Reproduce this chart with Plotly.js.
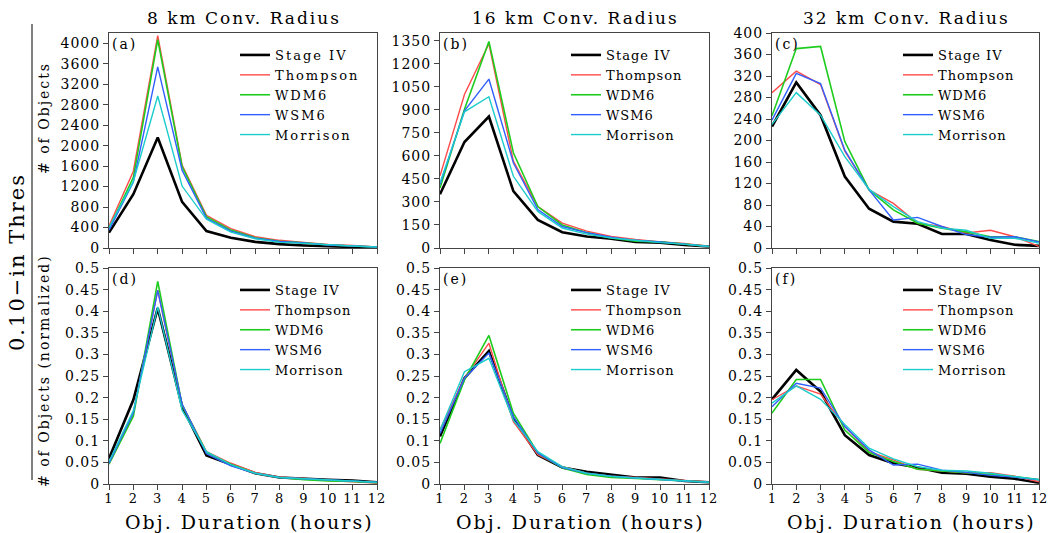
<!DOCTYPE html>
<html>
<head>
<meta charset="utf-8">
<script src="https://cdn.plot.ly/plotly-3.0.1.min.js"></script>
<style>
  html, body { margin: 0; padding: 0; background: #fff; }
  #chart { width: 1048px; height: 533px; }
  svg text { letter-spacing: 1px; }
  svg text.legendtext { letter-spacing: 2px; }
  svg .annotation-text { letter-spacing: 2px; }
  svg .x6tick text, svg text.x6tick { letter-spacing: 0px; }
</style>
</head>
<body>
<div id="chart"></div>
<script>
// ---------- data ----------
const hours = [1, 2, 3, 4, 5, 6, 7, 8, 9, 10, 11, 12];
const seriesNames = ['Stage IV', 'Thompson', 'WDM6', 'WSM6', 'Morrison'];
const columnTitles = ['8 km Conv. Radius', '16 km Conv. Radius', '32 km Conv. Radius'];
const panelLabels = ['(a)', '(b)', '(c)', '(d)', '(e)', '(f)'];
const xTitle = 'Obj. Duration (hours)';

// (a) 8 km, number of objects
const a_StageIV  = [300, 1050, 2160, 900, 330, 200, 120, 75, 50, 30, 20, 10];
const a_Thompson = [430, 1500, 4150, 1620, 640, 380, 220, 150, 110, 70, 50, 20];
const a_WDM6     = [380, 1380, 4070, 1590, 610, 350, 200, 130, 100, 60, 40, 20];
const a_WSM6     = [350, 1290, 3540, 1520, 580, 330, 190, 130, 100, 60, 40, 20];
const a_Morrison = [400, 1300, 2970, 1210, 560, 310, 180, 110, 90, 60, 40, 20];

// (b) 16 km, number of objects
const b_StageIV  = [350, 690, 856, 370, 183, 103, 75, 60, 40, 35, 20, 10];
const b_Thompson = [470, 1000, 1330, 566, 270, 162, 110, 75, 55, 40, 30, 10];
const b_WDM6     = [390, 904, 1345, 620, 270, 150, 100, 65, 45, 40, 25, 10];
const b_WSM6     = [413, 893, 1100, 555, 250, 140, 100, 70, 50, 40, 25, 10];
const b_Morrison = [424, 887, 985, 467, 238, 130, 90, 65, 50, 35, 25, 10];

// (c) 32 km, number of objects
const c_StageIV  = [226, 308, 247, 133, 73, 49, 45, 26, 26, 15, 6, 4];
const c_Thompson = [289, 329, 304, 180, 108, 83, 46, 40, 28, 33, 21, 3];
const c_WDM6     = [246, 371, 375, 198, 108, 71, 46, 37, 30, 21, 21, 12];
const c_WSM6     = [238, 325, 306, 182, 108, 52, 57, 40, 25, 20, 21, 11];
const c_Morrison = [230, 289, 247, 170, 109, 77, 49, 37, 33, 18, 18, 9];

// (d) 8 km, normalized
const d_StageIV  = [0.059, 0.195, 0.407, 0.179, 0.066, 0.045, 0.025, 0.015, 0.012, 0.010, 0.008, 0.004];
const d_Thompson = [0.050, 0.164, 0.449, 0.183, 0.075, 0.048, 0.027, 0.016, 0.013, 0.008, 0.005, 0.002];
const d_WDM6     = [0.046, 0.157, 0.469, 0.183, 0.073, 0.046, 0.025, 0.015, 0.010, 0.007, 0.006, 0.003];
const d_WSM6     = [0.048, 0.165, 0.448, 0.185, 0.070, 0.042, 0.025, 0.015, 0.012, 0.009, 0.007, 0.004];
const d_Morrison = [0.052, 0.170, 0.410, 0.171, 0.075, 0.045, 0.025, 0.015, 0.012, 0.009, 0.007, 0.004];

// (e) 16 km, normalized
const e_StageIV  = [0.110, 0.245, 0.308, 0.152, 0.067, 0.038, 0.028, 0.022, 0.015, 0.015, 0.007, 0.004];
const e_Thompson = [0.125, 0.245, 0.326, 0.144, 0.068, 0.040, 0.025, 0.018, 0.015, 0.012, 0.008, 0.005];
const e_WDM6     = [0.094, 0.241, 0.344, 0.164, 0.072, 0.037, 0.022, 0.015, 0.013, 0.010, 0.008, 0.004];
const e_WSM6     = [0.117, 0.245, 0.303, 0.156, 0.072, 0.038, 0.025, 0.018, 0.014, 0.010, 0.007, 0.004];
const e_Morrison = [0.125, 0.260, 0.291, 0.148, 0.075, 0.040, 0.025, 0.018, 0.014, 0.011, 0.008, 0.004];

// (f) 32 km, normalized
const f_StageIV  = [0.196, 0.264, 0.214, 0.113, 0.067, 0.048, 0.038, 0.026, 0.024, 0.017, 0.012, 0.003];
const f_Thompson = [0.195, 0.227, 0.208, 0.133, 0.075, 0.056, 0.034, 0.030, 0.026, 0.026, 0.018, 0.005];
const f_WDM6     = [0.164, 0.242, 0.242, 0.125, 0.073, 0.052, 0.034, 0.030, 0.027, 0.022, 0.017, 0.010];
const f_WSM6     = [0.179, 0.233, 0.222, 0.133, 0.079, 0.044, 0.046, 0.032, 0.027, 0.020, 0.016, 0.010];
const f_Morrison = [0.187, 0.227, 0.196, 0.138, 0.083, 0.058, 0.040, 0.032, 0.030, 0.025, 0.017, 0.010];

const yMax  = [4200, 1400, 400, 0.5, 0.5, 0.5];
const yStep = [400, 150, 40, 0.05, 0.05, 0.05];

// ---------- style ----------
const FONT = 'DejaVu Serif';
const colors = ['#000000', '#ff4a4a', '#1ecc1e', '#3060ff', '#1ccccc'];
const widths = [2.6, 1.4, 1.6, 1.4, 1.4];
const W = 1048, H = 533;

// pixel frame of panels
const colPx = [[109, 377], [440, 709], [772, 1039]];
const rowPx = [[33, 248], [268, 484]];

const panels = [
  [a_StageIV, a_Thompson, a_WDM6, a_WSM6, a_Morrison],
  [b_StageIV, b_Thompson, b_WDM6, b_WSM6, b_Morrison],
  [c_StageIV, c_Thompson, c_WDM6, c_WSM6, c_Morrison],
  [d_StageIV, d_Thompson, d_WDM6, d_WSM6, d_Morrison],
  [e_StageIV, e_Thompson, e_WDM6, e_WSM6, e_Morrison],
  [f_StageIV, f_Thompson, f_WDM6, f_WSM6, f_Morrison]
];

const traces = [];
const layout = {
  width: W, height: H,
  margin: {l: 0, r: 0, t: 0, b: 0},
  paper_bgcolor: '#fff', plot_bgcolor: '#fff',
  font: {family: FONT, color: '#000'},
  showlegend: true,
  annotations: [], shapes: []
};

panels.forEach((p, i) => {
  const r = Math.floor(i / 3), c = i % 3;
  const sfx = i === 0 ? '' : String(i + 1);
  const legName = 'legend' + sfx;
  p.forEach((ys, k) => {
    traces.push({
      x: hours, y: ys, type: 'scatter', mode: 'lines',
      name: seriesNames[k],
      line: {color: colors[k], width: widths[k]},
      xaxis: 'x' + sfx, yaxis: 'y' + sfx,
      legend: legName
    });
  });
  const [x0, x1] = colPx[c], [y0, y1] = rowPx[r];
  layout['xaxis' + sfx] = {
    domain: [x0 / W, x1 / W], anchor: 'y' + sfx,
    range: [1, 12], tickvals: hours,
    ticks: 'outside', ticklen: 5, tickcolor: '#444', tickwidth: 1,
    showline: true, mirror: true, linecolor: '#444', linewidth: 1,
    showgrid: false, zeroline: false,
    showticklabels: r === 1, ticklabeloverflow: 'allow',
    ticklabelstandoff: -3,
    tickfont: {family: FONT, size: 13, color: '#000'}
  };
  layout['yaxis' + sfx] = {
    domain: [1 - y1 / H, 1 - y0 / H], anchor: 'x' + sfx,
    range: [0, yMax[i]], dtick: yStep[i], tick0: 0,
    ticks: 'outside', ticklen: 5, tickcolor: '#444', tickwidth: 1,
    showline: true, mirror: true, linecolor: '#444', linewidth: 1,
    showgrid: false, zeroline: false,
    tickfont: {family: FONT, size: 14, color: '#000'}
  };
  layout[legName] = {
    x: (x0 + 126) / W, y: 1 - (y0 + 7) / H,
    xanchor: 'left', yanchor: 'top',
    xref: 'paper', yref: 'paper',
    bgcolor: 'rgba(0,0,0,0)', borderwidth: 0,
    font: {family: FONT, size: 13, color: '#000'},
    tracegroupgap: 0, itemwidth: 30
  };
  layout.annotations.push({
    text: panelLabels[i], xref: 'paper', yref: 'paper',
    x: (x0 + 1) / W, y: 1 - (y0 + 1) / H, xanchor: 'left', yanchor: 'top',
    showarrow: false, font: {family: FONT, size: 14, color: '#000'}
  });
  if (r === 1) {
    layout.annotations.push({
      text: xTitle, xref: 'paper', yref: 'paper',
      x: ((x0 + x1) / 2 + 6) / W, y: 1 - 522 / H,
      xanchor: 'center', yanchor: 'middle', showarrow: false,
      font: {family: FONT, size: 19, color: '#000'}
    });
  }
});

columnTitles.forEach((t, c) => {
  layout.annotations.push({
    text: t, xref: 'paper', yref: 'paper',
    x: ((colPx[c][0] + colPx[c][1]) / 2 + 1) / W, y: 1 - 18 / H,
    xanchor: 'center', yanchor: 'middle', showarrow: false,
    font: {family: FONT, size: 17, color: '#000'}
  });
});

layout.annotations.push({
  text: '# of Objects', xref: 'paper', yref: 'paper',
  x: 44 / W, y: 1 - 118 / H, xanchor: 'center', yanchor: 'middle',
  textangle: -90, showarrow: false, font: {family: FONT, size: 14, color: '#000'}
});
layout.annotations.push({
  text: '# of Objects (normalized)', xref: 'paper', yref: 'paper',
  x: 44 / W, y: 1 - 371 / H, xanchor: 'center', yanchor: 'middle',
  textangle: -90, showarrow: false, font: {family: FONT, size: 14, color: '#000'}
});
layout.annotations.push({
  text: '0.10\u2212in Thres', xref: 'paper', yref: 'paper',
  x: 17 / W, y: 1 - 262 / H, xanchor: 'center', yanchor: 'middle',
  textangle: -90, showarrow: false, font: {family: FONT, size: 21, color: '#000'}
});
layout.shapes.push({
  type: 'line', xref: 'paper', yref: 'paper',
  x0: 32 / W, x1: 32 / W, y0: 1 - 24 / H, y1: 1 - 480 / H,
  line: {color: '#000', width: 1}
});

Plotly.newPlot('chart', traces, layout, {displayModeBar: false, staticPlot: true});
</script>
</body>
</html>
